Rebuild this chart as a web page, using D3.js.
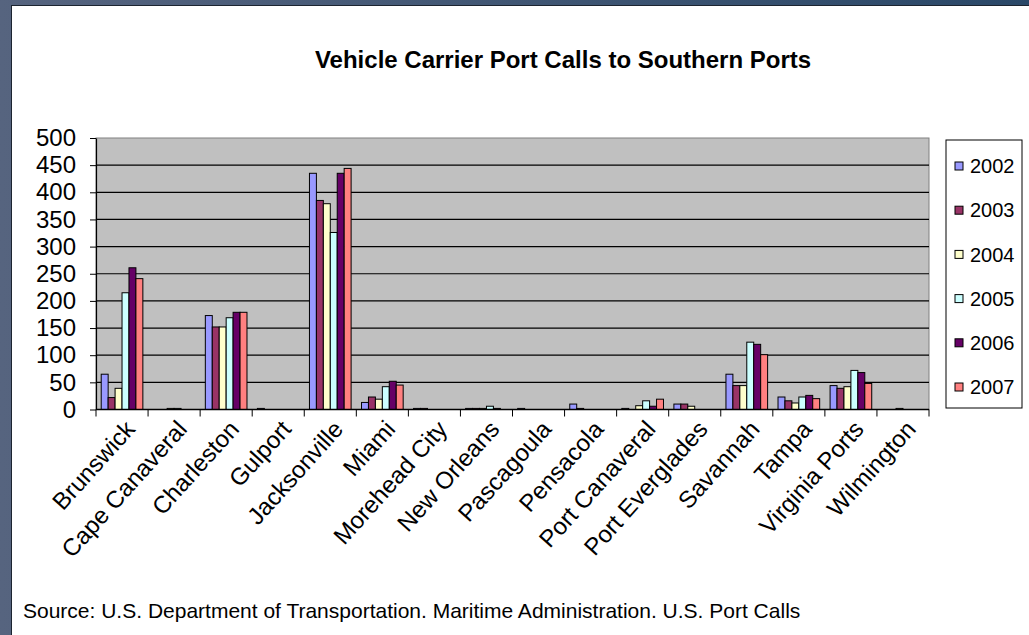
<!DOCTYPE html>
<html>
<head>
<meta charset="utf-8">
<script src="https://cdn.jsdelivr.net/npm/d3@7"></script>
<style>
  body { margin: 0; padding: 0; background: #4b5a78; }
  svg { display: block; font-family: "Liberation Sans", Arial, sans-serif; }
</style>
</head>
<body>
<div class="chart"></div>
<script>
var ports = ["Brunswick", "Cape Canaveral", "Charleston", "Gulport", "Jacksonville", "Miami",
  "Morehead City", "New Orleans", "Pascagoula", "Pensacola", "Port Canaveral",
  "Port Everglades", "Savannah", "Tampa", "Virginia Ports", "Wilmington"];
var years = ["2002", "2003", "2004", "2005", "2006", "2007"];

var v2002 = [65, 0, 173, 2, 435, 13, 2, 2, 2, 10, 2, 10, 65, 23, 44, 0];
var v2003 = [22, 0, 152, 0, 385, 23, 2, 2, 0, 2, 0, 10, 44, 16, 39, 0];
var v2004 = [39, 2, 152, 0, 379, 19, 0, 2, 0, 0, 7, 6, 44, 12, 42, 2];
var v2005 = [215, 2, 169, 0, 326, 42, 0, 6, 0, 0, 16, 0, 124, 23, 72, 0];
var v2006 = [261, 0, 179, 0, 435, 52, 0, 2, 0, 0, 6, 0, 120, 26, 68, 0];
var v2007 = [241, 0, 179, 0, 444, 45, 0, 0, 0, 0, 19, 0, 101, 20, 48, 0];
var yTicks = [0, 50, 100, 150, 200, 250, 300, 350, 400, 450, 500];

var colors = ["#9999ff", "#993366", "#ffffcc", "#ccffff", "#660066", "#ff8080"];
var seriesValues = [v2002, v2003, v2004, v2005, v2006, v2007];

var svgWidth = 1029;
var svgHeight = 635;
var plot = { left: 96, right: 929, top: 138, bottom: 409.5 };

var svg = d3.select(".chart")
  .append("svg")
  .attr("width", svgWidth)
  .attr("height", svgHeight);

// slide background
var grad = svg.append("defs").append("linearGradient")
  .attr("id", "bg").attr("x1", "0").attr("x2", "1").attr("y1", "0").attr("y2", "0");
grad.append("stop").attr("offset", "0").attr("stop-color", "#56647f");
grad.append("stop").attr("offset", "1").attr("stop-color", "#2a4868");

svg.append("rect").attr("width", svgWidth).attr("height", svgHeight).attr("fill", "url(#bg)");
svg.append("rect").attr("x", 11).attr("y", 5).attr("width", svgWidth - 11).attr("height", svgHeight - 5)
  .attr("fill", "#1c2430");
svg.append("rect").attr("x", 12).attr("y", 6).attr("width", svgWidth - 12).attr("height", svgHeight - 6)
  .attr("fill", "#ffffff");

// title
svg.append("text")
  .attr("x", 563)
  .attr("y", 68)
  .attr("text-anchor", "middle")
  .attr("font-weight", "bold")
  .attr("font-size", 24)
  .text("Vehicle Carrier Port Calls to Southern Ports");

var x0 = d3.scaleBand().domain(ports).range([plot.left, plot.right]);
var bw = x0.bandwidth();
var x1 = d3.scaleBand().domain(years).range([bw * 0.1, bw * 0.9]);
var y = d3.scaleLinear().domain([0, 500]).range([plot.bottom, plot.top]);

// plot area
svg.append("rect")
  .attr("x", plot.left).attr("y", plot.top)
  .attr("width", plot.right - plot.left).attr("height", plot.bottom - plot.top)
  .attr("fill", "#c0c0c0")
  .attr("stroke", "#808080");

svg.append("g")
  .selectAll("line")
  .data(yTicks.slice(1, -1))
  .enter()
  .append("line")
  .attr("x1", plot.left).attr("x2", plot.right)
  .attr("y1", function(d) { return y(d); })
  .attr("y2", function(d) { return y(d); })
  .attr("stroke", "#000")
  .attr("stroke-width", 1.2);

// bars
var rows = [];
ports.forEach(function(p, i) {
  years.forEach(function(yr, j) {
    if (seriesValues[j][i] > 0) rows.push({ port: p, year: yr, value: seriesValues[j][i], k: j });
  });
});

svg.append("g")
  .selectAll("rect")
  .data(rows)
  .enter()
  .append("rect")
  .attr("x", function(d) { return x0(d.port) + x1(d.year); })
  .attr("y", function(d) { return y(d.value); })
  .attr("width", x1.bandwidth())
  .attr("height", function(d) { return y(0) - y(d.value); })
  .attr("fill", function(d) { return colors[d.k]; })
  .attr("stroke", "#000")
  .attr("stroke-width", 1);

// y axis
var yAxis = d3.axisLeft(y).tickValues(yTicks).tickSize(6).tickSizeOuter(0).tickPadding(14);
var gy = svg.append("g")
  .attr("transform", "translate(" + plot.left + ",0)")
  .call(yAxis);
gy.select(".domain").attr("stroke", "#000").attr("stroke-width", 1.2);
gy.selectAll(".tick line").attr("stroke", "#000");
gy.selectAll("text")
  .attr("font-size", 24)
  .attr("font-family", "Liberation Sans, Arial, sans-serif")
  .attr("fill", "#000");

// x axis with ticks at category boundaries
svg.append("line")
  .attr("x1", plot.left).attr("x2", plot.right)
  .attr("y1", plot.bottom).attr("y2", plot.bottom)
  .attr("stroke", "#000").attr("stroke-width", 1.5);

svg.append("g")
  .selectAll("line")
  .data(ports.concat(["end"]))
  .enter()
  .append("line")
  .attr("x1", function(d, i) { return plot.left + i * bw; })
  .attr("x2", function(d, i) { return plot.left + i * bw; })
  .attr("y1", plot.bottom).attr("y2", plot.bottom + 7)
  .attr("stroke", "#000");

svg.append("g")
  .selectAll("text")
  .data(ports)
  .enter()
  .append("text")
  .attr("transform", function(d) {
    return "translate(" + (x0(d) + bw / 2 + 8) + "," + (plot.bottom + 15) + ") rotate(-48)";
  })
  .attr("text-anchor", "end")
  .attr("dy", "0.35em")
  .attr("font-size", 24)
  .text(function(d) { return d; });

// legend
var legend = svg.append("g");
legend.append("rect")
  .attr("x", 946).attr("y", 140).attr("width", 76).attr("height", 268)
  .attr("fill", "#fff").attr("stroke", "#000");

var ly = d3.scalePoint().domain(years).range([166, 387]);
var items = legend.selectAll(".item")
  .data(years)
  .enter()
  .append("g")
  .attr("class", "item")
  .attr("transform", function(d) { return "translate(955," + ly(d) + ")"; });
items.append("rect")
  .attr("x", 0).attr("y", -4).attr("width", 8).attr("height", 8)
  .attr("fill", function(d, i) { return colors[i]; })
  .attr("stroke", "#000");
items.append("text")
  .attr("x", 15)
  .attr("dy", "0.36em")
  .attr("font-size", 20)
  .text(function(d) { return d; });

// source
svg.append("text")
  .attr("x", 23)
  .attr("y", 618)
  .attr("font-size", 21)
  .text("Source: U.S. Department of Transportation. Maritime Administration. U.S. Port Calls");
</script>
</body>
</html>
